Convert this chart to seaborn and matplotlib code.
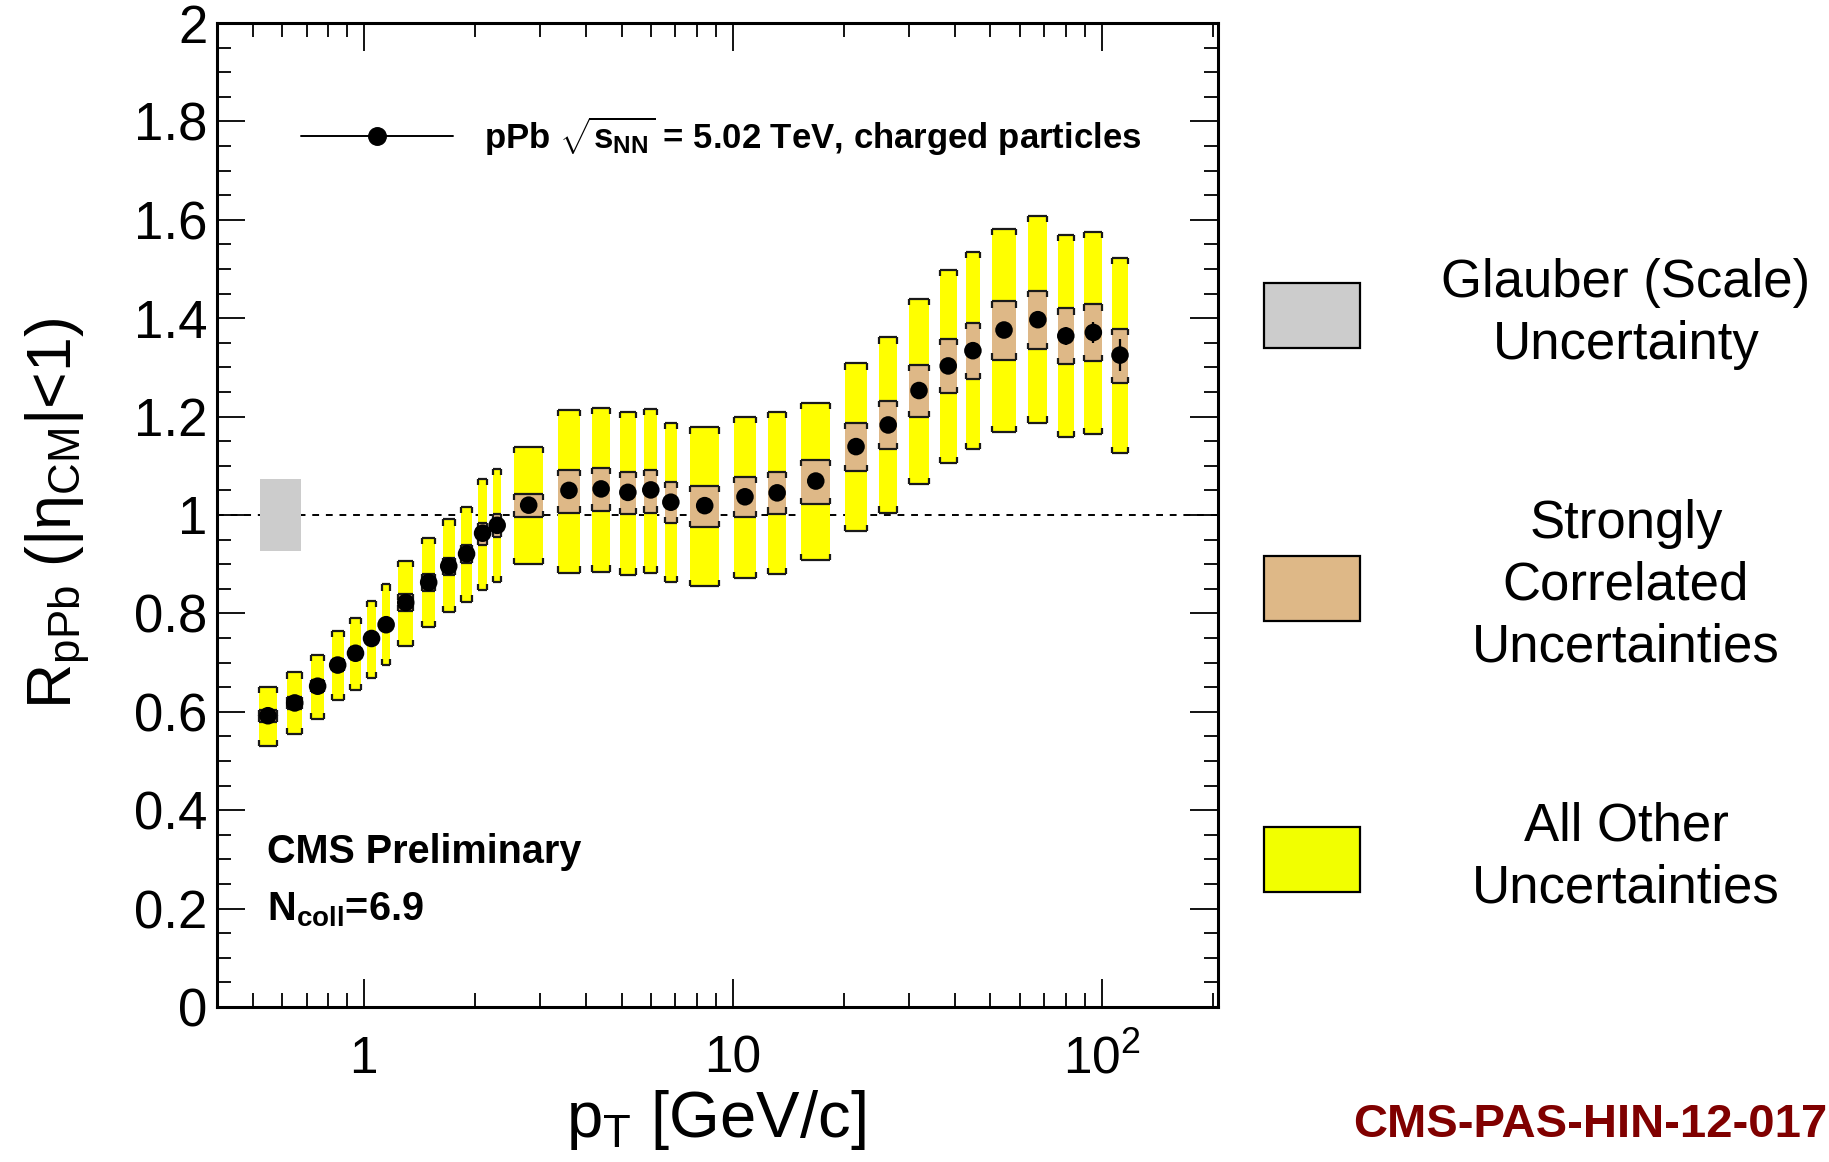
import numpy as np
import pandas as pd
import matplotlib
matplotlib.use("Agg")
import matplotlib.pyplot as plt
from matplotlib.patches import Rectangle
from matplotlib.ticker import (MultipleLocator, LogLocator, FixedLocator,
                               FixedFormatter, NullFormatter, FuncFormatter)
import seaborn as sns

# pT bin edges [GeV/c]
bin_edges = [0.5, 0.6, 0.7, 0.8, 0.9, 1.0, 1.1, 1.2, 1.4, 1.6, 1.8, 2.0, 2.2, 2.4,
             3.2, 4.0, 4.8, 5.6, 6.4, 7.2, 9.6, 12.0, 14.4, 19.2, 24.0, 28.8,
             35.2, 41.6, 48.0, 60.8, 73.6, 86.4, 103.6, 120.8]
pt = [0.55, 0.65, 0.75, 0.85, 0.95, 1.05, 1.15, 1.3, 1.5, 1.7, 1.9, 2.1, 2.3,
      2.8, 3.6, 4.4, 5.2, 6.0, 6.8, 8.4, 10.8, 13.2, 16.8, 21.6, 26.4, 32.0,
      38.4, 44.8, 54.4, 67.2, 80.0, 95.0, 112.2]
rppb = [0.592, 0.618, 0.652, 0.695, 0.719, 0.749, 0.777, 0.822, 0.863, 0.896,
        0.921, 0.963, 0.979, 1.020, 1.050, 1.053, 1.046, 1.051, 1.026, 1.019,
        1.037, 1.045, 1.069, 1.139, 1.183, 1.253, 1.303, 1.334, 1.376, 1.397,
        1.364, 1.371, 1.325]
stat_err = [0.004, 0.004, 0.004, 0.004, 0.004, 0.004, 0.004, 0.004, 0.004, 0.004,
            0.004, 0.004, 0.004, 0.004, 0.004, 0.004, 0.004, 0.004, 0.005, 0.005,
            0.006, 0.006, 0.006, 0.007, 0.008, 0.009, 0.010, 0.012, 0.014, 0.016,
            0.018, 0.022, 0.032]
# "all other" uncertainties (yellow)
other_lo = [0.530, 0.554, 0.585, 0.623, 0.644, 0.669, 0.695, 0.734, 0.772, 0.802,
            0.824, 0.848, 0.864, 0.900, 0.883, 0.885, 0.879, 0.883, 0.864, 0.856,
            0.872, 0.880, 0.909, 0.967, 1.005, 1.063, 1.106, 1.134, 1.169, 1.188,
            1.159, 1.165, 1.125]
other_hi = [0.651, 0.680, 0.716, 0.765, 0.790, 0.825, 0.859, 0.907, 0.953, 0.991,
            1.017, 1.073, 1.093, 1.139, 1.213, 1.218, 1.210, 1.215, 1.188, 1.178,
            1.200, 1.210, 1.227, 1.308, 1.361, 1.440, 1.498, 1.534, 1.581, 1.608,
            1.569, 1.576, 1.522]
# strongly correlated uncertainties (tan)
corr_lo = [0.580, 0.606, 0.640, 0.683, 0.707, 0.737, 0.765, 0.805, 0.846, 0.879,
           0.903, 0.939, 0.956, 0.995, 1.005, 1.009, 1.002, 1.005, 0.983, 0.976,
           0.995, 1.003, 1.023, 1.090, 1.134, 1.199, 1.247, 1.276, 1.316, 1.337,
           1.306, 1.312, 1.269]
corr_hi = [0.604, 0.630, 0.664, 0.707, 0.731, 0.761, 0.789, 0.839, 0.880, 0.913,
           0.939, 0.983, 1.002, 1.043, 1.091, 1.095, 1.087, 1.091, 1.068, 1.059,
           1.078, 1.088, 1.112, 1.187, 1.232, 1.305, 1.358, 1.390, 1.434, 1.456,
           1.420, 1.428, 1.379]
glauber_unc = 0.073

YELLOW = "#ffff00"
TAN = "#deb887"
GRAY = "#cccccc"
EDGE = "#1a1a1a"

sns.set_style("ticks")
plt.rcParams["font.family"] = ["Liberation Sans", "DejaVu Sans"]
plt.rcParams["mathtext.fontset"] = "custom"
plt.rcParams["mathtext.rm"] = "Liberation Sans"
plt.rcParams["mathtext.it"] = "Liberation Sans:italic"
plt.rcParams["mathtext.bf"] = "Liberation Sans:bold"
for key in ["text.color", "axes.labelcolor", "xtick.color", "ytick.color"]:
    plt.rcParams[key] = "black"

df = pd.DataFrame({"pt": pt, "rppb": rppb, "stat": stat_err,
                   "other_lo": other_lo, "other_hi": other_hi,
                   "corr_lo": corr_lo, "corr_hi": corr_hi,
                   "edge_lo": bin_edges[:-1], "edge_hi": bin_edges[1:]})

# boxes are 62% of the bin width (in log space), centred on the point
half = 0.31 * np.log10(df.edge_hi / df.edge_lo)
df["box_l"] = df.pt * 10 ** (-half)
df["box_r"] = df.pt * 10 ** (half)
df["box_w"] = df.box_r - df.box_l

fig = plt.figure(figsize=(18.29, 11.62), dpi=100)
ax = fig.add_axes([0.1186, 0.1334, 0.5474, 0.8468])
ax.set_xscale("log")
ax.set_xlim(0.4, 207)
ax.set_ylim(0, 2)

ax.axhline(1.0, color="black", lw=1.4, ls=(0, (3.5, 3.5)), zorder=1)

# glauber scale box
ax.add_patch(Rectangle((0.525, 1 - glauber_unc), 0.675 - 0.525, 2 * glauber_unc,
                       facecolor=GRAY, edgecolor="none", zorder=2))

tick = 0.0125


def boxes(lo, hi, color, z):
    ax.bar(df.box_l, hi - lo, bottom=lo, width=df.box_w, align="edge",
           color=color, linewidth=0, zorder=z)
    for y, sgn in ((hi, -1), (lo, 1)):
        ax.hlines(y, df.box_l, df.box_r, color=EDGE, lw=1.6, zorder=z + 0.5)
        ax.vlines(df.box_l, y, y + sgn * tick, color=EDGE, lw=1.6, zorder=z + 0.5)
        ax.vlines(df.box_r, y, y + sgn * tick, color=EDGE, lw=1.6, zorder=z + 0.5)


boxes(df.other_lo, df.other_hi, YELLOW, 3)
boxes(df.corr_lo, df.corr_hi, TAN, 4)

ax.vlines(df.pt, df.rppb - df.stat, df.rppb + df.stat, color="black", lw=1.6, zorder=6)
sns.scatterplot(data=df, x="pt", y="rppb", ax=ax, color="black", s=160,
                edgecolor="none", zorder=7, legend=False)

# legend entry inside the frame
ax.plot([0.084, 0.236], [0.885, 0.885], transform=ax.transAxes, color="black", lw=1.4)
ax.plot([0.16], [0.885], "o", color="black", ms=12.6, transform=ax.transAxes)
ax.text(0.267, 0.885, r"pPb $\mathbf{\sqrt{s_{NN}}}$ = 5.02 TeV, charged particles",
        transform=ax.transAxes, fontsize=25, fontweight="bold", va="center", ha="left")

ax.text(0.05, 0.1575, "CMS Preliminary", transform=ax.transAxes, fontsize=28.5,
        fontweight="bold", va="center", ha="left")
ax.text(0.05, 0.0986, r"N$_{\mathbf{coll}}$=6.9", transform=ax.transAxes, fontsize=28.5,
        fontweight="bold", va="center", ha="left")

# axes cosmetics
ax.xaxis.set_major_locator(FixedLocator([1, 10, 100]))
ax.xaxis.set_major_formatter(FixedFormatter(["1", "10", "$10^{2}$"]))
ax.xaxis.set_minor_locator(LogLocator(base=10, subs=np.arange(2, 10), numticks=30))
ax.xaxis.set_minor_formatter(NullFormatter())
ax.yaxis.set_major_locator(MultipleLocator(0.2))
ax.yaxis.set_minor_locator(MultipleLocator(0.05))
ax.yaxis.set_major_formatter(FuncFormatter(lambda v, _: f"{v:g}"))
ax.tick_params(which="both", direction="in", top=True, right=True, width=1.3,
               color="black")
ax.tick_params(which="major", length=20)
ax.tick_params(which="minor", length=10)
ax.tick_params(axis="x", which="major", labelsize=37, pad=20)
ax.tick_params(axis="y", which="major", labelsize=38, pad=7)
for sp in ax.spines.values():
    sp.set_linewidth(2.2)
    sp.set_color("black")
ax.set_xlabel("")
ax.set_ylabel("")

fig.text(0.0317, 0.5585, r"R$_{\mathrm{pPb}}$ (|η$_{\mathrm{CM}}$|<1)", rotation=90,
         fontsize=45, ha="center", va="center")
fig.text(0.3915, 0.036, r"p$_{\mathrm{T}}$ [GeV/c]", fontsize=47, ha="center", va="center")

# uncertainty legend on the right
legend_items = [
    (GRAY, "Glauber (Scale)\nUncertainty", 0.7005, 0.7298),
    (TAN, "Strongly\nCorrelated\nUncertainties", 0.4656, 0.4957),
    ("#f2ff00", "All Other\nUncertainties", 0.2324, 0.2620),
]
for color, label, y0, yt in legend_items:
    fig.add_artist(Rectangle((0.691, y0), 0.0525, 0.056, transform=fig.transFigure,
                             facecolor=color, edgecolor="black", lw=1.6))
    fig.text(0.889, yt, label, fontsize=38, ha="center", va="center", linespacing=1.3)

fig.text(0.999, 0.0315, "CMS-PAS-HIN-12-017", color="#800000", fontsize=34,
         fontweight="bold", ha="right", va="center")

fig.savefig("out.png", dpi=100)
